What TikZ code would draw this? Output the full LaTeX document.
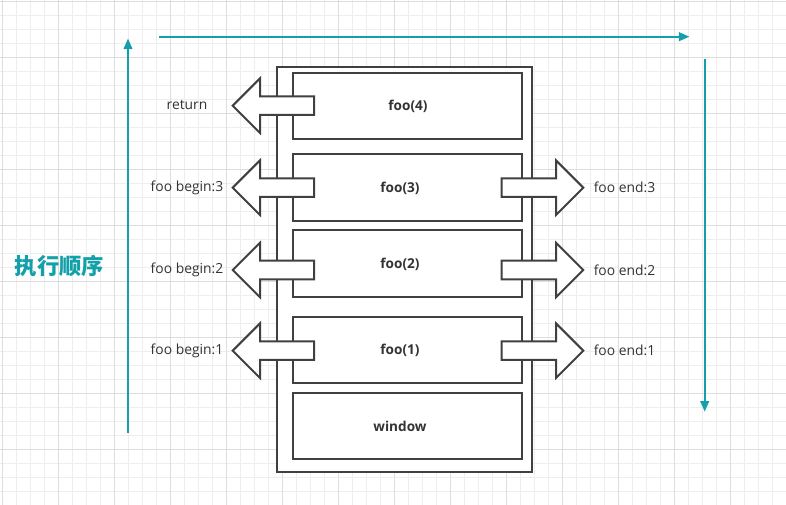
\documentclass[tikz,border=0pt]{standalone}
\usepackage{fontspec}
\setmainfont{Open Sans}
\newfontfamily\cjk{Noto Sans CJK SC}
\usetikzlibrary{arrows.meta}
\definecolor{tealc}{RGB}{20,160,170}
\definecolor{edgec}{RGB}{64,64,64}
\definecolor{txtc}{RGB}{51,51,51}
\definecolor{gminor}{RGB}{238,238,238}
\definecolor{gmajor}{RGB}{222,222,222}
\tikzset{
  box/.style={draw=edgec, line width=1.5pt, fill=white, inner sep=0pt, minimum width=229.6*0.75pt},
  boxlabel/.style={text=txtc, font=\fontsize{10.2}{12}\selectfont\bfseries, inner sep=0pt},
  sidelabel/.style={text=txtc, font=\fontsize{10.4}{12}\selectfont, inner sep=0pt},
  flow/.style={draw=tealc, line width=1.5pt, -{Triangle[length=8pt,width=6.5pt]}},
  larrow/.pic={\draw[draw=edgec, line width=1.5pt, fill=white, line join=miter]
     (81.4,-9.3) -- (27.3,-9.3) -- (27.3,-27.3) -- (0,0) -- (27.3,27.3) -- (27.3,9.3) -- (81.4,9.3) -- cycle;},
  rarrow/.pic={\draw[draw=edgec, line width=1.5pt, fill=white, line join=miter]
     (-81.6,-9.3) -- (-27.3,-9.3) -- (-27.3,-27.3) -- (0,0) -- (-27.3,27.3) -- (-27.3,9.3) -- (-81.6,9.3) -- cycle;}
}
\begin{document}
\begin{tikzpicture}[x=0.75pt,y=-0.75pt]
\useasboundingbox (0,0) rectangle (786,505);
\fill[white] (0,0) rectangle (786,505);
% grid
\foreach \i in {0,...,56} {\draw[gminor, line width=0.75pt] ({2.7+14*\i},0) -- ({2.7+14*\i},505);}
\foreach \j in {0,...,35} {\draw[gminor, line width=0.75pt] (0,{2+14*\j}) -- (786,{2+14*\j});}
\foreach \i in {0,...,14} {\draw[gmajor, line width=0.75pt] ({2.7+56*\i},0) -- ({2.7+56*\i},505);}
\foreach \j in {0,...,8} {\draw[gmajor, line width=0.75pt] (0,{2+56*\j}) -- (786,{2+56*\j});}

% outer frame
\node[draw=edgec, line width=1.5pt, fill=white, inner sep=0pt,
      minimum width=255*0.75pt, minimum height=405*0.75pt] (outer) at (404.5,269.5) {};

% frames
\node[box, minimum height=66.3*0.75pt] (f4) at (407.5,105.85) {};
\node[box, minimum height=66.7*0.75pt] (f3) at (407.5,187.35) {};
\node[box, minimum height=66.7*0.75pt] (f2) at (407.5,263.35) {};
\node[box, minimum height=66.6*0.75pt] (f1) at (407.5,350) {};
\node[box, minimum height=66*0.75pt] (win) at (407.5,426) {};

% big arrows
\pic at (232.7,105.7) {larrow};
\pic at (232.7,187.7) {larrow};
\pic at (232.7,270) {larrow};
\pic at (232.7,350.7) {larrow};
\pic at (583.3,187.7) {rarrow};
\pic at (583.3,270) {rarrow};
\pic at (583.3,350.7) {rarrow};

% box labels
\node[boxlabel] (t4) at (408,106.5) {foo(4)};
\node[boxlabel] (t3) at (400,188.3) {foo(3)};
\node[boxlabel] (t2) at (400,264) {foo(2)};
\node[boxlabel] (t1) at (400,350.7) {foo(1)};
\node[boxlabel] (tw) at (400,426.5) {window};

% side labels
\node[sidelabel] (lr) at (187,105.5) {return};
\node[sidelabel] (lb3) at (187,187.7) {foo begin:3};
\node[sidelabel] (lb2) at (187,270.2) {foo begin:2};
\node[sidelabel] (lb1) at (187,350.7) {foo begin:1};
\node[sidelabel, anchor=west] (le3) at (593.5,187.7) {foo end:3};
\node[sidelabel, anchor=west] (le2) at (593.5,270.2) {foo end:2};
\node[sidelabel, anchor=west] (le1) at (593.5,350.7) {foo end:1};

% execution order
\coordinate (vb) at (128,433);
\coordinate (vt) at (128,38.5);
\coordinate (hl) at (159,36.7);
\coordinate (hr) at (689.5,36.7);
\coordinate (rt) at (704.7,59);
\coordinate (rb) at (704.7,411.7);
\draw[flow] (vb) -- (vt);
\draw[flow] (hl) -- (hr);
\draw[flow] (rt) -- (rb);
\node[text=tealc, font=\cjk\fontsize{16.7}{18}\selectfont\bfseries, inner sep=0pt] (order) at (59.5,266) {执行顺序};
\end{tikzpicture}
\end{document}
